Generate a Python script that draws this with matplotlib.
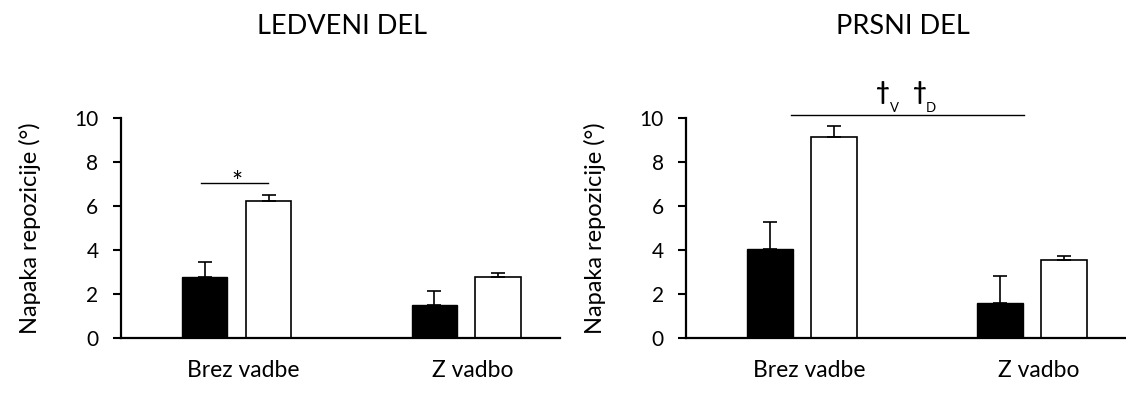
import numpy as np
import matplotlib
matplotlib.use('Agg')
import matplotlib.pyplot as plt

plt.rcParams['font.family'] = ['Lato', 'DejaVu Sans']

categories = ['Brez vadbe', 'Z vadbo']
titles = ['LEDVENI DEL', 'PRSNI DEL']

# ledveni del
lumbar_black = [2.79, 1.48]
lumbar_black_err = [0.66, 0.67]
lumbar_white = [6.21, 2.79]
lumbar_white_err = [0.29, 0.15]

# prsni del
thor_black = [4.03, 1.59]
thor_black_err = [1.24, 1.23]
thor_white = [9.14, 3.53]
thor_white_err = [0.50, 0.18]

yticks = [0, 2, 4, 6, 8, 10]

fig = plt.figure(figsize=(11.26, 3.96), dpi=100)
ax1 = fig.add_axes([0.1072, 0.1465, 0.390, 0.5556])
ax2 = fig.add_axes([0.6092, 0.1465, 0.3908, 0.5556])

index = np.arange(len(categories))
bar_width = 0.198
off = 0.139

def draw(ax, black, black_err, white, white_err, title, xc):
    err_kw = dict(ecolor='black', elinewidth=1.2, capsize=5, capthick=1.2)
    ax.bar(index - off, black, bar_width, color='black', edgecolor='black',
           linewidth=1.0, yerr=[np.zeros(len(black)), black_err],
           error_kw=err_kw, zorder=2)
    ax.bar(index + off, white, bar_width, color='white', edgecolor='black',
           linewidth=1.2, yerr=[np.zeros(len(white)), white_err],
           error_kw=err_kw, zorder=2)
    ax.set_ylim(0, 10)
    ax.set_xlim(-0.505, 1.408)
    ax.set_yticks(yticks)
    ax.set_xticks(index + 0.03)
    ax.set_xticklabels(categories, fontsize=16.5)
    ax.tick_params(axis='x', length=0, pad=16)
    ax.tick_params(axis='y', direction='out', length=6, width=1.5,
                   labelsize=15, pad=10)
    ax.spines['top'].set_visible(False)
    ax.spines['right'].set_visible(False)
    ax.spines['left'].set_linewidth(1.6)
    ax.spines['bottom'].set_linewidth(1.6)
    ax.set_ylabel('Napaka repozicije (°)', fontsize=17, labelpad=24)
    fig.text(xc, 0.932, title, ha='center', va='center', fontsize=19.5)

draw(ax1, lumbar_black, lumbar_black_err, lumbar_white, lumbar_white_err,
     titles[0], 0.304)
draw(ax2, thor_black, thor_black_err, thor_white, thor_white_err,
     titles[1], 0.802)

# significance marks
ax1.plot([-0.155, 0.135], [7.06, 7.06], color='black', lw=1.0, clip_on=False)
ax1.text(0.0, 7.0, '*', ha='center', va='center', fontsize=19)

ax2.plot([-0.049, 0.964], [10.15, 10.15], color='black', lw=1.0, clip_on=False)
ax2.text(0.35, 11.15, '†', ha='center', va='center', fontsize=17,
         fontweight='bold', clip_on=False)
ax2.text(0.400, 10.45, 'V', ha='center', va='center', fontsize=9.5, clip_on=False)
ax2.text(0.511, 11.15, '†', ha='center', va='center', fontsize=17,
         fontweight='bold', clip_on=False)
ax2.text(0.561, 10.45, 'D', ha='center', va='center', fontsize=9.5, clip_on=False)

fig.savefig('out.png', dpi=100)
